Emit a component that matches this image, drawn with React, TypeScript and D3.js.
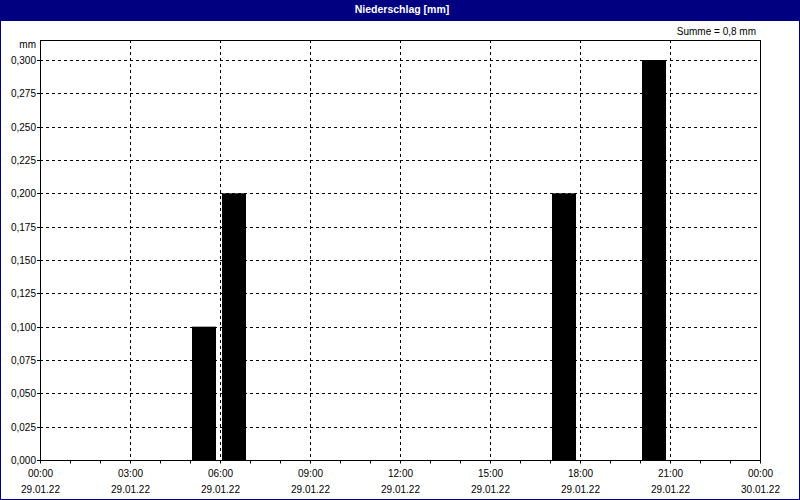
import React from "react";
import * as d3 from "d3";

const title = "Niederschlag [mm]";
const unitLabel = "mm";
const sumLabel = "Summe = 0,8 mm";
// hourly precipitation bins (start hour of bin, value in mm)
const barHours = [5, 6, 17, 20];
const barValues = [0.1, 0.2, 0.2, 0.3];
const yTicks = [0, 0.025, 0.05, 0.075, 0.1, 0.125, 0.15, 0.175, 0.2, 0.225, 0.25, 0.275, 0.3];
const xTickHours = [0, 3, 6, 9, 12, 15, 18, 21, 24];
const xTimeLabels = ["00:00", "03:00", "06:00", "09:00", "12:00", "15:00", "18:00", "21:00", "00:00"];
const xDateLabels = ["29.01.22", "29.01.22", "29.01.22", "29.01.22", "29.01.22", "29.01.22", "29.01.22", "29.01.22", "30.01.22"];
const minorHours = d3.range(0, 25);

const W = 800, H = 500;
const L = 40, R = 760, T = 40, B = 460;
const NAVY = "#000080";
const FONT = "'Liberation Sans', Arial, sans-serif";

export default function App() {
  const x = d3.scaleLinear().domain([0, 24]).range([L, R]);
  const y = d3.scaleLinear().domain([0, 0.315]).range([B, T]);
  const fmt = (v: number) => v.toFixed(3).replace(".", ",");
  return (
    <div style={{ position: "fixed", left: 0, top: 0 }}>
      <svg width={W} height={H} style={{ display: "block" }} fontFamily={FONT} fontSize={10}>
        <rect x={0} y={0} width={W} height={H} fill="#ffffff" />
        <rect x={0} y={0} width={W} height={21} fill={NAVY} />
        <rect x={0.5} y={0.5} width={W - 1} height={H - 1} fill="none" stroke={NAVY} strokeWidth={1} />
        <text x={402} y={13} fill="#fff" fontWeight="bold" textAnchor="middle" fontSize={10.5}>{title}</text>
        <text x={756} y={34.5} textAnchor="end" fill="#000">{sumLabel}</text>
        <text x={36} y={48} textAnchor="end" fill="#000">{unitLabel}</text>
        {/* horizontal grid */}
        {yTicks.map((t, i) => (
          <g key={"y" + i}>
            {t > 0 && (
              <line x1={L} x2={R} y1={Math.round(y(t)) + 0.5} y2={Math.round(y(t)) + 0.5} stroke="#000" strokeDasharray="3,3" />
            )}
            <line x1={L - 3} x2={L} y1={Math.round(y(t)) + 0.5} y2={Math.round(y(t)) + 0.5} stroke="#000" />
            <text x={36} y={Math.round(y(t)) + 4} textAnchor="end" fill="#000">{fmt(t)}</text>
          </g>
        ))}
        {/* vertical grid */}
        {xTickHours.slice(1, -1).map((h) => (
          <line key={"vx" + h} x1={x(h) + 0.5} x2={x(h) + 0.5} y1={T} y2={B} stroke="#000" strokeDasharray="3,3" />
        ))}
        {/* bars */}
        {barHours.map((h, i) => (
          <rect key={"b" + i} x={x(h) + 2} y={y(barValues[i])} width={x(h + 1) - x(h) - 6} height={B - y(barValues[i])} fill="#000" />
        ))}
        {/* frame */}
        <line x1={L + 0.5} x2={L + 0.5} y1={T} y2={B + 1} stroke="#000" />
        <line x1={L} x2={R + 1} y1={T + 0.5} y2={T + 0.5} stroke="#000" />
        <line x1={R + 0.5} x2={R + 0.5} y1={T} y2={B + 1} stroke="#000" />
        <line x1={L} x2={R + 1} y1={B + 0.5} y2={B + 0.5} stroke="#000" />
        {/* minor ticks */}
        {minorHours.map((h) => (
          <line key={"m" + h} x1={x(h) + 0.5} x2={x(h) + 0.5} y1={B} y2={B + 3.5} stroke="#000" />
        ))}
        {xTickHours.map((h, i) => (
          <g key={"xl" + i}>
            <text x={x(h) + 0.5} y={476.5} textAnchor="middle" fill="#000">{xTimeLabels[i]}</text>
            <text x={x(h) + 0.5} y={492.5} textAnchor="middle" fill="#000">{xDateLabels[i]}</text>
          </g>
        ))}
      </svg>
    </div>
  );
}
